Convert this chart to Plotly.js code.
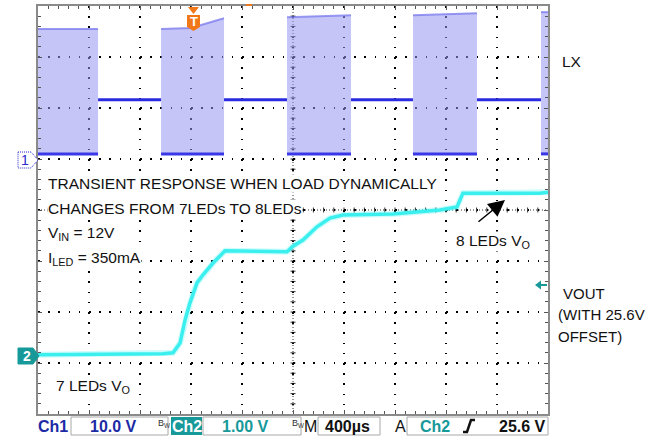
<!DOCTYPE html>
<html><head><meta charset="utf-8">
<script src="https://cdn.plot.ly/plotly-3.0.1.min.js"></script>
<style>html,body{margin:0;padding:0;background:#fff}#chart{width:663px;height:438px}</style>
</head><body><div id="chart"></div>
<script>
// ---- data ----
// time axis: µs relative to trigger, 400 µs/div, 10 divisions
const timeRange = [-1200, 2800];
// Ch1 = LX, 10 V/div
const ch1Range = [-50, 30];
const lxBurstTopT = [[-1200, -729], [-235, 0, 259], [753, 1255], [1741, 2243], [2745, 2800]];
const lxBurstTopV = [[25.5, 25.5], [25.5, 25.7, 27.6], [27.8, 28.2], [28.2, 28.6], [28.8, 28.8]];
const lxLowLevel = 1.0;
const lxOffLevel = 11.6;
// Ch2 = VOUT, 1 V/div, trigger level 25.6 V
const ch2Range = [23.07, 31.07];
const ch2TriggerLevel = 25.6;
const ch2T = [-1200, -220, -141, -86, -47, -8, 47, 94, 173, 267, 753, 800, 878, 988, 1090, 1192, 1584, 1953, 2086, 2133, 2737, 2800];
const ch2V = [24.23, 24.25, 24.27, 24.46, 24.91, 25.25, 25.64, 25.80, 26.03, 26.27, 26.25, 26.36, 26.48, 26.74, 26.91, 26.97, 26.99, 27.07, 27.13, 27.40, 27.40, 27.42];

// ---- build traces ----
const fillX = [], fillY = [], topX = [], topY = [], lowX = [], lowY = [], offX = [], offY = [];
lxBurstTopT.forEach((T, i) => {
  const V = lxBurstTopV[i];
  const t0 = T[0], t1 = T[T.length - 1];
  fillX.push(t0, ...T, t1, null); fillY.push(lxLowLevel, ...V, lxLowLevel, null);
  topX.push(...T, null); topY.push(...V, null);
  lowX.push(t0, t1, null); lowY.push(lxLowLevel, lxLowLevel, null);
  if (i < lxBurstTopT.length - 1) {
    offX.push(t1, lxBurstTopT[i + 1][0], null); offY.push(lxOffLevel, lxOffLevel, null);
  }
});

const traces = [
  {x: fillX, y: fillY, type: 'scatter', mode: 'lines', fill: 'toself', fillcolor: 'rgba(150,150,242,0.55)',
   line: {color: 'rgba(0,0,0,0)', width: 0}, hoverinfo: 'skip', yaxis: 'y'},
  {x: topX, y: topY, type: 'scatter', mode: 'lines', line: {color: 'rgba(120,120,238,0.75)', width: 2}, yaxis: 'y'},
  {x: lowX, y: lowY, type: 'scatter', mode: 'lines', line: {color: '#3838e6', width: 3}, yaxis: 'y'},
  {x: offX, y: offY, type: 'scatter', mode: 'lines', line: {color: '#2a2ae0', width: 3}, yaxis: 'y'},
  {x: ch2T, y: ch2V, type: 'scatter', mode: 'lines', line: {color: 'rgba(90,245,245,0.3)', width: 6}, yaxis: 'y2'},
  {x: ch2T, y: ch2V, type: 'scatter', mode: 'lines', line: {color: '#3cefef', width: 3.5}, yaxis: 'y2'}
];

// ---- pixel helpers for decorations (plot area 38..548 x 6..414) ----
const PX0 = 38, PX1 = 548, PY0 = 6, PY1 = 414;
const px = x => (x - PX0) / (PX1 - PX0);
const py = y => (PY1 - y) / (PY1 - PY0);
const pathPx = pts => 'M' + pts.map(p => px(p[0]) + ',' + py(p[1])).join(' L') + ' Z';
const linePx = (x0, y0, x1, y1, color, width, dash, layer) => ({type: 'line', xref: 'paper', yref: 'paper',
  x0: px(x0), y0: py(y0), x1: px(x1), y1: py(y1), line: {color: color, width: width, dash: dash || 'solid'}, layer: layer || 'above'});

const shapes = [];
// center cross (dense dotted with cross ticks)
shapes.push(linePx(293, PY0, 293, PY1, '#333', 1, '1px,2px', 'between'));
shapes.push(linePx(PX0, 210, PX1, 210, '#333', 1, '1px,2px', 'between'));
for (let k = 1; k < 40; k++) { const y = PY0 + k * 10.2; shapes.push(linePx(290.5, y, 295.5, y, '#333', 1, null, 'between')); }
for (let k = 1; k < 50; k++) { const x = PX0 + k * 10.2; shapes.push(linePx(x, 207.5, x, 212.5, '#333', 1, null, 'between')); }

const TEAL = '#17999a', ORANGE = '#f07818', NAVY = '#1c2aa6';
// Ch1 marker
shapes.push({type: 'path', xref: 'paper', yref: 'paper', path: pathPx([[18,152],[31,152],[38,160],[31,168],[18,168]]),
  fillcolor: '#fff', line: {color: '#2a2ad0', width: 1, dash: '1px,1px'}});
// Ch2 marker
shapes.push({type: 'path', xref: 'paper', yref: 'paper', path: pathPx([[18,348],[33,348],[39,356],[33,364],[18,364]]),
  fillcolor: TEAL, line: {color: TEAL, width: 1}});
// trigger position marker
shapes.push({type: 'path', xref: 'paper', yref: 'paper', path: pathPx([[188,7],[199,7],[193.5,14]]), fillcolor: ORANGE, line: {width: 0}});
shapes.push({type: 'path', xref: 'paper', yref: 'paper', path: pathPx([[187,15],[200,15],[200,27],[193.5,31],[187,27]]), fillcolor: ORANGE, line: {width: 0}});
shapes.push(linePx(246, 5, 252, 5, ORANGE, 2));
// trigger level arrow (right)
shapes.push({type: 'path', xref: 'paper', yref: 'paper', path: pathPx([[535,285],[541,280.5],[541,289.5]]), fillcolor: TEAL, line: {width: 0}});
shapes.push(linePx(540, 285, 547, 285, TEAL, 2));
// bottom status bar boxes
[[71,168],[203,301],[318,380],[407,548]].forEach(b => shapes.push({type: 'rect', xref: 'paper', yref: 'paper',
  x0: px(b[0]), x1: px(b[1]), y0: py(435), y1: py(417), line: {color: '#a8a8a8', width: 1}}));
shapes.push({type: 'rect', xref: 'paper', yref: 'paper', x0: px(171), x1: px(202), y0: py(435), y1: py(417), fillcolor: TEAL, line: {width: 0}});
// trigger slope symbol
shapes.push({type: 'path', xref: 'paper', yref: 'paper', path: 'M' + px(463) + ',' + py(432) + ' L' + px(467) + ',' + py(432) +
  ' L' + px(471) + ',' + py(420) + ' L' + px(475) + ',' + py(420), line: {color: '#111', width: 2.5}});

const FONT = 'Liberation Sans, Arial, sans-serif';
const ann = (text, x, y, size, color, opts) => Object.assign({text: text, xref: 'paper', yref: 'paper', x: px(x), y: py(y),
  xanchor: 'left', yanchor: 'middle', showarrow: false, font: {family: FONT, size: size, color: color}, borderpad: 0}, opts || {});

const annotations = [
  ann('TRANSIENT RESPONSE WHEN LOAD DYNAMICALLY', 47, 183, 15.5, '#111', {bgcolor: '#fff'}),
  ann('CHANGES FROM 7LEDs TO 8LEDs', 47, 208, 15.5, '#111', {bgcolor: '#fff'}),
  ann('V<sub>IN</sub> = 12V', 47, 233, 15.5, '#111', {bgcolor: '#fff'}),
  ann('I<sub>LED</sub> = 350mA', 47, 258, 15.5, '#111', {bgcolor: '#fff'}),
  ann('7 LEDs V<sub>O</sub>', 55, 386, 15.5, '#111', {bgcolor: '#fff'}),
  ann('8 LEDs V<sub>O</sub>', 455, 242, 15.5, '#111', {bgcolor: '#fff'}),
  ann('LX', 561, 62, 15.5, '#111'),
  ann('VOUT', 562, 293, 15, '#111'),
  ann('(WITH 25.6V', 557, 314, 15, '#111'),
  ann('OFFSET)', 557, 336, 15, '#111'),
  // arrow to 8 LED level
  {text: '', xref: 'paper', yref: 'paper', x: px(505), y: py(200), ax: -28, ay: 23, showarrow: true,
   arrowhead: 2, arrowsize: 2.2, arrowwidth: 1.5, arrowcolor: '#000', standoff: 0},
  // markers' text
  ann('1', 25, 160, 14, '#2a2ad0', {xanchor: 'center'}),
  ann('<b>2</b>', 26.5, 356, 14, '#fff', {xanchor: 'center'}),
  ann('<b>T</b>', 193.5, 21.5, 13, '#fff', {xanchor: 'center'}),
  // status bar
  ann('<b>Ch1</b>', 37, 426.5, 16, NAVY),
  ann('<b>10.0 V</b>', 89, 426.5, 16, NAVY),
  ann('B<sub>W</sub>', 157, 424, 9, '#333'),
  ann('<b>Ch2</b>', 186.5, 426.5, 16, '#fff', {xanchor: 'center'}),
  ann('<b>1.00 V</b>', 221, 426.5, 16, TEAL),
  ann('B<sub>W</sub>', 291, 424, 9, '#333'),
  ann('M', 303, 426.5, 16, '#111'),
  ann('<b>400µs</b>', 324, 426.5, 16, '#111'),
  ann('A', 394, 426.5, 16, '#111'),
  ann('<b>Ch2</b>', 419, 426.5, 16, TEAL),
  ann('<b>25.6 V</b>', 547, 426.5, 16, '#111', {xanchor: 'right'})
];

const axisCommon = {showticklabels: false, zeroline: false, showline: true, linecolor: '#8a8a8a', linewidth: 2, mirror: 'ticks',
  ticks: 'inside', ticklen: 4, tickcolor: '#555', tickwidth: 1, showgrid: true, gridcolor: '#000', gridwidth: 1.3,
  griddash: '1.5px,8.7px', fixedrange: true};

const layout = {
  width: 663, height: 438, margin: {l: 38, r: 115, t: 6, b: 24, pad: 0},
  paper_bgcolor: '#fff', plot_bgcolor: '#fff', showlegend: false,
  xaxis: Object.assign({}, axisCommon, {range: timeRange, tickmode: 'linear', tick0: -1200, dtick: 400,
    minor: {tick0: -1200, dtick: 80, ticks: 'inside', ticklen: 3, tickcolor: '#555', showgrid: false}}),
  yaxis: Object.assign({}, axisCommon, {range: ch1Range, tickmode: 'linear', tick0: 0, dtick: 10,
    minor: {tick0: 0, dtick: 2, ticks: 'inside', ticklen: 3, tickcolor: '#555', showgrid: false}}),
  yaxis2: {range: ch2Range, overlaying: 'y', visible: false, fixedrange: true},
  shapes: shapes, annotations: annotations
};

Plotly.newPlot('chart', traces, layout, {staticPlot: true, displayModeBar: false});
</script></body></html>
